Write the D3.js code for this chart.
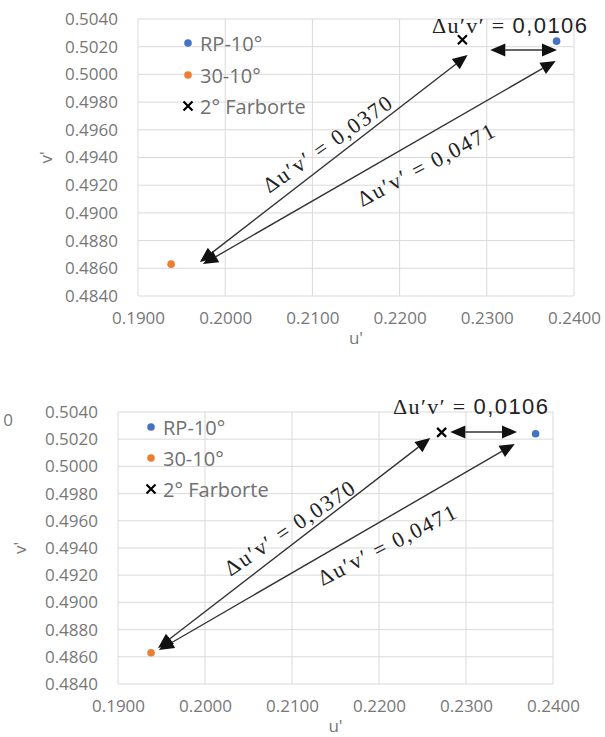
<!DOCTYPE html>
<html><head><meta charset="utf-8">
<script src="https://cdn.jsdelivr.net/npm/d3@7"></script>
<style>body{margin:0;background:#fff}svg{display:block}</style>
</head><body><svg id="c" width="605" height="737"></svg>
<script>
// ---------- data ----------
const seriesNames = ["RP-10°", "30-10°", "2° Farborte"];
const seriesU = [0.2380, 0.1938, 0.2272];
const seriesV = [0.5024, 0.4863, 0.5025];
const seriesColors = ["#4472C4", "#ED7D31", "#000000"];
const seriesShapes = ["circle", "circle", "cross"];

const xTicks = [0.19, 0.20, 0.21, 0.22, 0.23, 0.24];
const yTicks = [0.484, 0.486, 0.488, 0.490, 0.492, 0.494, 0.496, 0.498, 0.500, 0.502, 0.504];
const xTitle = "u'";
const yTitle = "v'";

// annotation arrows in data units: [u1, v1, u2, v2] (double-headed)
const arrowsTop = [
  [0.2278, 0.5014, 0.1971, 0.48645],
  [0.2379, 0.50097, 0.19745, 0.48631],
  [0.2304, 0.50176, 0.23805, 0.50176]
];
const arrowsBottom = [
  [0.2259, 0.50209, 0.1946, 0.48665],
  [0.2356, 0.50165, 0.1947, 0.48650],
  [0.2282, 0.50253, 0.23586, 0.50253]
];
// delta labels
const deltaPrefix = "Δu′v′ = ";
const deltaValues = ["0,0370", "0,0471", "0,0106"];
// label anchors in data units: [u, v, angle]
const labelsTop = [[0.2117, 0.49497, -35], [0.2230, 0.49346, -28], [0.22372, 0.50299, 0]];
const labelsBottom = [[0.2097, 0.49547, -34], [0.2209, 0.49422, -27], [0.22161, 0.50385, 0]];

// ---------- drawing ----------
const svg = d3.select("#c");
const fmt = d3.format(".4f");

function drawChart(cfg) {
  const x = d3.scaleLinear().domain([0.19, 0.24]).range([cfg.x0, cfg.x1]);
  const y = d3.scaleLinear().domain([0.484, 0.504]).range([cfg.y0, cfg.y1]);
  const g = svg.append("g");

  // gridlines
  g.append("g").selectAll("line").data(yTicks).join("line")
    .attr("x1", cfg.x0).attr("x2", cfg.x1)
    .attr("y1", d => y(d)).attr("y2", d => y(d))
    .attr("stroke", "#d9d9d9").attr("stroke-width", 1);
  g.append("g").selectAll("line").data(xTicks).join("line")
    .attr("y1", cfg.y0).attr("y2", cfg.y1)
    .attr("x1", d => x(d)).attr("x2", d => x(d))
    .attr("stroke", "#d9d9d9").attr("stroke-width", 1);

  // axes via d3 axis (labels only)
  const yAxis = g.append("g").attr("transform", `translate(${cfg.x0},0)`)
    .call(d3.axisLeft(y).tickValues(yTicks).tickFormat(fmt).tickSize(0).tickPadding(20));
  const xAxis = g.append("g").attr("transform", `translate(0,${cfg.y0})`)
    .call(d3.axisBottom(x).tickValues(xTicks).tickFormat(fmt).tickSize(0).tickPadding(16));
  [yAxis, xAxis].forEach(a => {
    a.select(".domain").remove();
    a.selectAll("text").attr("font-family", "'Open Sans', sans-serif")
      .attr("font-size", 17).attr("fill", "#777");
  });

  // axis titles
  g.append("text").attr("x", (cfg.x0 + cfg.x1) / 2).attr("y", cfg.uTitleY)
    .attr("text-anchor", "middle").attr("font-family", "'Open Sans', sans-serif")
    .attr("font-size", 17).attr("fill", "#777").text(xTitle);
  g.append("text").attr("transform", `translate(${cfg.vTitleX},${(cfg.y0 + cfg.y1) / 2}) rotate(-90)`)
    .attr("text-anchor", "middle").attr("dominant-baseline", "central")
    .attr("font-family", "'Open Sans', sans-serif")
    .attr("font-size", 17).attr("fill", "#777").text(yTitle);

  // points
  const pts = seriesNames.map((n, i) => ({ n, u: seriesU[i], v: seriesV[i], c: seriesColors[i], s: seriesShapes[i] }));
  drawMarkers(g, pts.map(p => ({ ...p, px: x(p.u), py: y(p.v) })));

  // legend
  const leg = pts.map((p, i) => ({ ...p, px: cfg.legendX, py: cfg.legendY[i] }));
  drawMarkers(g, leg);
  g.append("g").selectAll("text").data(leg).join("text")
    .attr("x", cfg.legendX + 12).attr("y", d => d.py)
    .attr("dominant-baseline", "central")
    .attr("font-family", "'Open Sans', sans-serif").attr("font-size", 20)
    .attr("fill", "#707070").text(d => d.n);

  // arrows (double-headed)
  const AL = 15, AW = 6.5;
  cfg.arrows.forEach(a => {
    const x1 = x(a[0]), y1 = y(a[1]), x2 = x(a[2]), y2 = y(a[3]);
    const len = Math.hypot(x2 - x1, y2 - y1);
    const dx = (x2 - x1) / len, dy = (y2 - y1) / len;
    g.append("line").attr("x1", x1 + dx * AL).attr("y1", y1 + dy * AL)
      .attr("x2", x2 - dx * AL).attr("y2", y2 - dy * AL)
      .attr("stroke", "#333").attr("stroke-width", 1.4);
    const head = (tx, ty, ux, uy) => {
      const bx = tx - ux * AL, by = ty - uy * AL;
      g.append("path").attr("d", `M${tx},${ty}L${bx - uy * AW},${by + ux * AW}L${bx + uy * AW},${by - ux * AW}Z`)
        .attr("fill", "#111");
    };
    head(x2, y2, dx, dy);
    head(x1, y1, -dx, -dy);
  });

  // delta labels
  cfg.labels.forEach((l, i) => {
    const px = x(l[0]), py = y(l[1]);
    if (l[2] !== 0) {
      g.append("text").attr("transform", `translate(${px},${py}) rotate(${l[2]})`)
        .attr("text-anchor", "middle").attr("dominant-baseline", "central")
        .attr("font-family", "'Liberation Serif', serif")
        .attr("font-size", 22).attr("fill", "#222")
        .attr("textLength", 152).attr("lengthAdjust", "spacing")
        .text(deltaPrefix + deltaValues[i]);
    } else {
      const t = g.append("text").attr("x", px).attr("y", py)
        .attr("font-size", 22).attr("fill", "#222")
        .attr("textLength", 155).attr("lengthAdjust", "spacing");
      t.append("tspan").attr("font-family", "'Liberation Serif', serif").text(deltaPrefix);
      t.append("tspan").attr("font-family", "'Liberation Sans', Arial, sans-serif").text(deltaValues[i]);
    }
  });
}

function drawMarkers(g, data) {
  g.append("g").selectAll("circle").data(data.filter(d => d.s === "circle")).join("circle")
    .attr("cx", d => d.px).attr("cy", d => d.py).attr("r", 3.8).attr("fill", d => d.c);
  g.append("g").selectAll("path").data(data.filter(d => d.s === "cross")).join("path")
    .attr("d", d => { const s = 4.5; return `M${d.px - s},${d.py - s}L${d.px + s},${d.py + s}M${d.px - s},${d.py + s}L${d.px + s},${d.py - s}`; })
    .attr("stroke", d => d.c).attr("stroke-width", 2.2);
}

drawChart({ x0: 138, x1: 574, y0: 296, y1: 19, legendX: 188, legendY: [43, 75, 106],
  vTitleX: 45, uTitleY: 344, arrows: arrowsTop, labels: labelsTop });
drawChart({ x0: 118, x1: 553, y0: 684, y1: 412, legendX: 151, legendY: [427, 458, 489],
  vTitleX: 19, uTitleY: 732, arrows: arrowsBottom, labels: labelsBottom });

// stray cropped label at left edge
svg.append("text").attr("x", 8).attr("y", 419).attr("text-anchor", "middle")
  .attr("dominant-baseline", "central").attr("font-family", "'Open Sans', sans-serif")
  .attr("font-size", 17).attr("fill", "#777").text("0");
</script></body></html>
